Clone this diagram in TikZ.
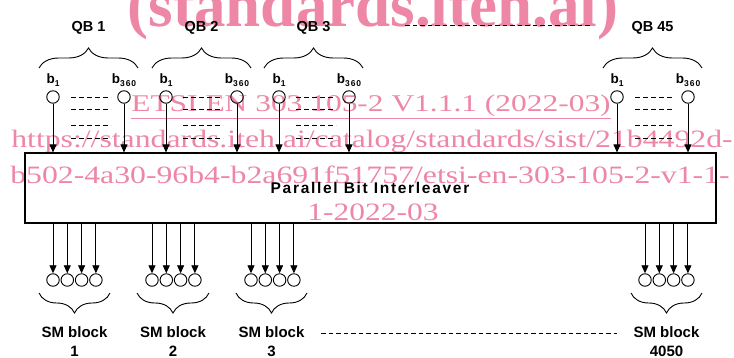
\documentclass[tikz,border=0pt]{standalone}
\usepackage{fontspec}
\setmainfont{Liberation Sans}
\newfontfamily\wmfont{Liberation Serif}
\newfontfamily\lsfont[LetterSpace=11]{Liberation Sans}
\newfontfamily\subfont[LetterSpace=12]{Liberation Sans}
\usetikzlibrary{arrows.meta,decorations.pathreplacing}
\definecolor{wm}{RGB}{238,134,166}
\newcommand{\bsub}[1]{\textbf{b}{\subfont\bfseries\fontsize{8.5}{9}\selectfont\raisebox{-2.5pt}{#1}}}
\begin{document}
\begin{tikzpicture}[x=1pt,y=-1pt,
  bit/.style={circle,draw,line width=0.9pt,minimum size=12.5pt,inner sep=0pt},
  arr/.style={-{Triangle[length=8pt,width=7pt]},line width=0.9pt},
  sdash/.style={line width=0.9pt,dash pattern=on 5pt off 3pt},
  ldash/.style={line width=0.8pt,dash pattern=on 4.5pt off 3pt},
  tbrace/.style={decorate,decoration={brace,amplitude=20pt},line width=0.9pt},
  bbrace/.style={decorate,decoration={brace,amplitude=20pt,mirror},line width=0.9pt},
  qblab/.style={font=\bfseries\fontsize{14.5}{16}\selectfont,inner sep=0pt},
  blab/.style={font=\fontsize{13.5}{15}\selectfont,inner sep=0pt},
  smlab/.style={font=\bfseries\fontsize{15}{19}\selectfont,align=center,inner sep=0pt},
  wmtext/.style={text=wm,inner sep=0pt,anchor=base}
]
\useasboundingbox (0,0) rectangle (734,358);

% main box
\node[draw,line width=1.1pt,minimum width=691pt,minimum height=70pt,inner sep=0pt] (box) at (370.5,188) {};
\node[font=\lsfont\bfseries\fontsize{15.5}{17}\selectfont,inner sep=0pt] (boxlab) at (370,188) {Parallel Bit Interleaver};

% top bit groups
\foreach \g/\xa/\xb/\da/\db/\ba/\bb/\lab in {1/53/124/71/111/39/138/QB 1, 2/166/237/183/223/152/251/QB 2, 3/279/349/296/336/264/363/QB 3, 45/617/688/635/674/603/702/QB 45}{
  \node[bit] (ta\g) at (\xa,97) {};
  \node[bit] (tb\g) at (\xb,97) {};
  \node[blab] (la\g) at (\xa,80) {\bsub{1}};
  \node[blab] (lb\g) at (\xb,80) {\bsub{360}};
  \foreach \yy in {97,109,125,138}{
    \coordinate (da\g-\yy) at (\da,\yy);
    \coordinate (db\g-\yy) at (\db,\yy);
    \draw[sdash] (da\g-\yy) -- (db\g-\yy);
  }
  \draw[arr] (ta\g) -- (ta\g |- box.north);
  \draw[arr] (tb\g) -- (tb\g |- box.north);
  \coordinate (bra\g) at (\ba,68);
  \coordinate (brb\g) at (\bb,68);
  \draw[tbrace] (bra\g) -- (brb\g);
  \node[qblab] (qb\g) at ({(\ba+\bb)/2},28) {\lab};
}
\coordinate (tdl) at (405,25);
\coordinate (tdr) at (590,25);
\draw[ldash] (tdl) -- (tdr);

% bottom SM blocks
\foreach \g/\xa/\ba/\bb/\num in {1/53/39/110/1, 2/152/137/209/2, 3/251/236/307/3, 4050/645/631/702/4050}{
  \foreach \k in {0,1,2,3}{
    \node[bit] (s\g-\k) at ({\xa+\k*14.3},280) {};
    \draw[arr] (box.south -| s\g-\k) -- (s\g-\k);
  }
  \coordinate (bba\g) at (\ba,293);
  \coordinate (bbb\g) at (\bb,293);
  \draw[bbrace] (bba\g) -- (bbb\g);
  \node[smlab,anchor=base] (sm\g) at ({(\ba+\bb)/2},356) {SM block\\\num};
}
\coordinate (bdl) at (321,333);
\coordinate (bdr) at (617,333);
\draw[ldash] (bdl) -- (bdr);

% watermark
\begin{scope}[blend mode=multiply]
\node[wmtext,font=\wmfont\bfseries\fontsize{63}{70}\selectfont] (wm1) at (373,27) {(standards.iteh.ai)};
\node[wmtext,font=\wmfont\fontsize{24}{28}\selectfont] (wm2) at (371,112) {\scalebox{1.31}[1]{\underline{ETSI EN 303 105-2 V1.1.1 (2022-03)}}};
\node[wmtext,font=\wmfont\fontsize{25}{30}\selectfont] (wm3) at (372,148) {\scalebox{1.27}[1]{https://standards.iteh.ai/catalog/standards/sist/21b4492d-}};
\node[wmtext,font=\wmfont\fontsize{25}{30}\selectfont] (wm4) at (370,184) {\scalebox{1.27}[1]{b502-4a30-96b4-b2a691f51757/etsi-en-303-105-2-v1-1-}};
\node[wmtext,font=\wmfont\fontsize{25}{30}\selectfont] (wm5) at (373,221) {\scalebox{1.26}[1]{1-2022-03}};
\end{scope}
\end{tikzpicture}
\end{document}
